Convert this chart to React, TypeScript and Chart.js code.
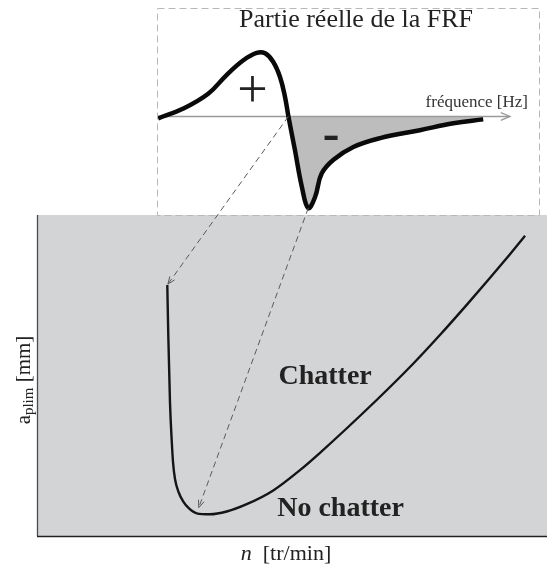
import React, { useEffect, useRef } from "react";
import { Chart, registerables } from "chart.js";

Chart.register(...registerables);

// ---- FRF (top inset): real part vs frequency (arbitrary units) ----
const frfFreq = [0.3, 6.9, 13.4, 18.2, 22.6, 26.1, 28.3, 30.4, 32.2, 33.5, 34.4, 36.1, 37.9, 39.6, 41.4, 43.1, 46.2, 51.4, 58.4, 68.8, 77.6, 85.4];
const frfReal = [-0.02, 0.08, 0.23, 0.42, 0.57, 0.645, 0.64, 0.555, 0.4, 0.2, 0.0, -0.34, -0.71, -0.93, -0.815, -0.58, -0.44, -0.31, -0.22, -0.14, -0.07, -0.03];
const frfAxisFreq = [0, 92.4];

// ---- Stability lobe (bottom): a_plim vs n (arbitrary units) ----
const spindleSpeed = [25.55, 25.75, 26.08, 26.41, 26.67, 27.06, 27.75, 28.69, 29.8, 31.31, 33.92, 37.2, 41.12, 46.33, 51.57, 55.49, 66.6, 73.8, 79.0, 84.3, 88.8, 92.7, 95.7];
const depthLimit = [78.44, 62.28, 41.56, 30.0, 23.1, 17.8, 13.75, 10.72, 8.6, 7.09, 6.78, 7.65, 9.95, 14.25, 20.6, 26.0, 42.5, 53.9, 62.8, 72.3, 80.6, 88.0, 93.85];

// connectors: FRF point index -> stability point index
const connectorFrom = [10, 13];
const connectorTo = [0, 9];

// region labels (in stability-chart units)
const regionLabels = ["Chatter", "No chatter"];
const regionLabelN = [56.5, 47.1];
const regionLabelA = [47.5, 6.25];

// sign labels (in FRF units)
const signLabels = ["+", "-"];
const signFreq = [25.0, 45.6];
const signReal = [0.224, -0.22];

const SERIF = '"Liberation Serif", "Times New Roman", serif';

function arrowHead(ctx: CanvasRenderingContext2D, fx: number, fy: number, tx: number, ty: number, len: number, spread: number) {
  const a = Math.atan2(ty - fy, tx - fx);
  ctx.beginPath();
  ctx.moveTo(tx - len * Math.cos(a - spread), ty - len * Math.sin(a - spread));
  ctx.lineTo(tx, ty);
  ctx.lineTo(tx - len * Math.cos(a + spread), ty - len * Math.sin(a + spread));
  ctx.stroke();
}

export default function App() {
  const bottomRef = useRef<HTMLCanvasElement | null>(null);
  const topRef = useRef<HTMLCanvasElement | null>(null);

  useEffect(() => {
    if (!bottomRef.current || !topRef.current) return;

    const bottomPlugin = {
      id: "stabDecor",
      beforeDraw(chart: any) {
        const { ctx, chartArea: a } = chart;
        ctx.save();
        ctx.fillStyle = "#d3d4d6";
        ctx.fillRect(a.left, a.top - 1, a.right - a.left, a.bottom - a.top + 1);
        ctx.restore();
      },
      afterDraw(chart: any) {
        const { ctx, chartArea: a } = chart;
        const xs = chart.scales.x;
        const ys = chart.scales.y;
        ctx.save();
        // borders
        ctx.strokeStyle = "#4a4a4a";
        ctx.lineWidth = 1.3;
        ctx.beginPath();
        ctx.moveTo(a.left + 0.5, a.top - 1);
        ctx.lineTo(a.left + 0.5, a.bottom);
        ctx.stroke();
        ctx.strokeStyle = "#222";
        ctx.lineWidth = 1.6;
        ctx.beginPath();
        ctx.moveTo(a.left, a.bottom + 0.5);
        ctx.lineTo(a.right, a.bottom + 0.5);
        ctx.stroke();

        // region labels
        ctx.fillStyle = "#222";
        ctx.font = `bold 28px ${SERIF}`;
        ctx.textBaseline = "alphabetic";
        ctx.textAlign = "center";
        ctx.fillText(regionLabels[0], xs.getPixelForValue(regionLabelN[0]), ys.getPixelForValue(regionLabelA[0]));
        ctx.textAlign = "left";
        ctx.fillText(regionLabels[1], xs.getPixelForValue(regionLabelN[1]), ys.getPixelForValue(regionLabelA[1]));

        // x axis title: "n [tr/min]"
        ctx.fillStyle = "#222";
        const xParts = [
          { t: "n", f: `italic 22px ${SERIF}` },
          { t: "  [tr/min]", f: `22px ${SERIF}` },
        ];
        let tw = 0;
        xParts.forEach((p) => { ctx.font = p.f; tw += ctx.measureText(p.t).width; });
        let cx = (a.left + a.right) / 2 - 6 - tw / 2;
        const by = a.bottom + 24;
        ctx.textAlign = "left";
        xParts.forEach((p) => { ctx.font = p.f; ctx.fillText(p.t, cx, by); cx += ctx.measureText(p.t).width; });

        // y axis title: a_plim [mm]
        ctx.translate(a.left - 7, (a.top + a.bottom) / 2 + 4);
        ctx.rotate(-Math.PI / 2);
        const yParts = [
          { t: "a", f: `21px ${SERIF}`, dy: 0 },
          { t: "plim", f: `15px ${SERIF}`, dy: 3 },
          { t: " [mm]", f: `21px ${SERIF}`, dy: 0 },
        ];
        let yw = 0;
        yParts.forEach((p) => { ctx.font = p.f; yw += ctx.measureText(p.t).width; });
        let px = -yw / 2;
        yParts.forEach((p) => { ctx.font = p.f; ctx.fillText(p.t, px, p.dy); px += ctx.measureText(p.t).width; });
        ctx.restore();
      },
    };

    const bottomChart = new Chart(bottomRef.current, {
      type: "line",
      data: {
        datasets: [
          {
            data: spindleSpeed.map((x, i) => ({ x, y: depthLimit[i] })),
            borderColor: "#151515",
            borderWidth: 2.4,
            pointRadius: 0,
            cubicInterpolationMode: "monotone",
            fill: false,
          },
        ],
      },
      options: {
        animation: false,
        responsive: false,
        events: [],
        layout: { padding: { left: 37, top: 216, right: 0, bottom: 33 } },
        scales: {
          x: { type: "linear", min: 0, max: 100, display: false },
          y: { type: "linear", min: 0, max: 100, display: false },
        },
        plugins: { legend: { display: false }, tooltip: { enabled: false }, title: { display: false } },
      },
      plugins: [bottomPlugin],
    } as any);

    const topPlugin = {
      id: "frfDecor",
      afterDraw(chart: any) {
        const { ctx, chartArea: a } = chart;
        const xs = chart.scales.x;
        const ys = chart.scales.y;
        ctx.save();
        // dashed frame
        ctx.strokeStyle = "#b8b8b8";
        ctx.lineWidth = 1;
        ctx.setLineDash([7, 4]);
        ctx.strokeRect(a.left + 0.5, a.top + 0.5, a.right - a.left, a.bottom - a.top);
        ctx.setLineDash([]);

        // title
        ctx.fillStyle = "#222";
        ctx.font = `26px ${SERIF}`;
        ctx.textAlign = "center";
        ctx.textBaseline = "alphabetic";
        ctx.fillText("Partie réelle de la FRF", (a.left + a.right) / 2 + 8, a.top + 19);

        // axis label
        ctx.font = `17px ${SERIF}`;
        ctx.fillStyle = "#333";
        ctx.textAlign = "right";
        ctx.fillText("fréquence [Hz]", a.right - 11, ys.getPixelForValue(0) - 9);

        // axis arrow head
        ctx.strokeStyle = "#9a9a9a";
        ctx.lineWidth = 1.3;
        const ax = xs.getPixelForValue(frfAxisFreq[1]);
        const ay = ys.getPixelForValue(0);
        arrowHead(ctx, ax - 10, ay, ax, ay, 10, 0.4);

        // signs
        ctx.fillStyle = "#222";
        ctx.textAlign = "center";
        ctx.font = `54px ${SERIF}`;
        ctx.fillText(signLabels[0], xs.getPixelForValue(signFreq[0]), ys.getPixelForValue(signReal[0]) + 13);
        ctx.font = `bold 50px ${SERIF}`;
        ctx.fillText(signLabels[1], xs.getPixelForValue(signFreq[1]), ys.getPixelForValue(signReal[1]) + 12);

        // connectors to the stability chart
        const bx = bottomChart.scales.x;
        const bys = bottomChart.scales.y;
        const gaps = [1, 6];
        ctx.strokeStyle = "#5a5a5a";
        ctx.lineWidth = 1;
        connectorFrom.forEach((fi, k) => {
          const x1 = xs.getPixelForValue(frfFreq[fi]);
          const y1 = ys.getPixelForValue(frfReal[fi]);
          let x2 = bx.getPixelForValue(spindleSpeed[connectorTo[k]]);
          let y2 = bys.getPixelForValue(depthLimit[connectorTo[k]]);
          const d = Math.hypot(x2 - x1, y2 - y1);
          x2 -= ((x2 - x1) / d) * gaps[k];
          y2 -= ((y2 - y1) / d) * gaps[k];
          ctx.setLineDash([6, 4]);
          ctx.beginPath();
          ctx.moveTo(x1, y1);
          ctx.lineTo(x2, y2);
          ctx.stroke();
          ctx.setLineDash([]);
          arrowHead(ctx, x1, y1, x2, y2, 8, 0.38);
        });
        ctx.restore();
      },
    };

    const topChart = new Chart(topRef.current, {
      type: "line",
      data: {
        datasets: [
          {
            data: frfFreq.map((x, i) => ({ x, y: frfReal[i] })),
            borderColor: "#0a0a0a",
            borderWidth: 4.5,
            pointRadius: 0,
            tension: 0.4,
            fill: { target: { value: 0 }, above: "rgba(0,0,0,0)", below: "#bdbdbd" },
            order: 1,
          },
          {
            data: frfAxisFreq.map((x) => ({ x, y: 0 })),
            borderColor: "#9a9a9a",
            borderWidth: 1.4,
            pointRadius: 0,
            fill: false,
            order: 2,
          },
        ],
      },
      options: {
        animation: false,
        responsive: false,
        events: [],
        layout: { padding: { left: 157, top: 8, right: 8, bottom: 354 } },
        scales: {
          x: { type: "linear", min: 0, max: 100, display: false },
          y: { type: "linear", min: -1, max: 1.1, display: false },
        },
        plugins: {
          legend: { display: false },
          tooltip: { enabled: false },
          title: { display: false },
          filler: { drawTime: "beforeDatasetsDraw" },
        },
      },
      plugins: [topPlugin],
    } as any);

    return () => {
      topChart.destroy();
      bottomChart.destroy();
    };
  }, []);

  const cStyle: React.CSSProperties = { position: "absolute", left: 0, top: 0, display: "block" };
  return (
    <div style={{ position: "absolute", left: 0, top: 0, width: 547, height: 569, background: "#fff" }}>
      <canvas ref={bottomRef} width={547} height={569} style={cStyle} />
      <canvas ref={topRef} width={547} height={569} style={cStyle} />
    </div>
  );
}
